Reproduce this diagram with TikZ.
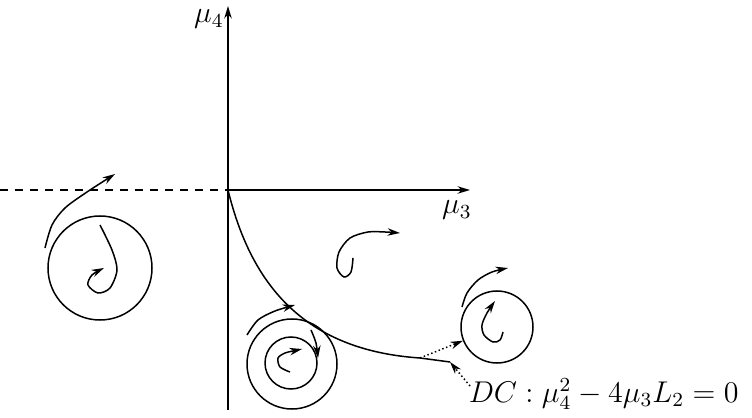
\documentclass[tikz,border=0pt]{standalone}
\usepackage{amsmath}
\usepackage{amssymb}
\usetikzlibrary{arrows.meta}
\begin{document}
\begin{tikzpicture}[x=0.4pt, y=-0.4pt, line width=0.6pt, >={Stealth[length=5pt,width=3pt]}, every node/.style={font=\large}]
        \useasboundingbox (0,0) rectangle (752,418);

        % Axes
        \coordinate (O) at (228,190);
        \coordinate (Xend) at (470,190);
        \coordinate (Xleft) at (0,190);
        \coordinate (Ytop) at (228,6);
        \coordinate (Ybot) at (228,410);
        \draw[->] (O) -- (Xend);
        \draw[->] (Ybot) -- (Ytop);
        \draw[dashed] (Xleft) -- (O);
        \node (mu4) at (209,19) {$\mu_4$};
        \node (mu3) at (457,210) {$\mu_3$};

        % Curve DC
        \coordinate (K1) at (420,358);
        \coordinate (K2) at (450,362);
        \draw (O) .. controls (250,280) and (300,350) .. (K1) -- (K2);
        \node[anchor=base west, inner sep=0pt] (DC) at (468,402) {$DC: \mu_4^2 - 4\mu_3 L_2 = 0$};
        \coordinate (DCtip) at (470,386);

        % Circles
        \node[draw, circle, minimum size=41.6pt, inner sep=0pt] (C1) at (100,268) {};
        \node[draw, circle, minimum size=36pt, inner sep=0pt] (C2) at (292,364) {};
        \node[draw, circle, minimum size=20.8pt, inner sep=0pt] (C2in) at (291,363) {};
        \node[draw, circle, minimum size=28.8pt, inner sep=0pt] (C3) at (497,327) {};

        % Trajectories
        \draw[->] plot[smooth] coordinates {(100,225) (112,250) (117,270) (110,288) (98,293) (88,285) (92,275) (104,268)};
        \draw[->] plot[smooth] coordinates {(45,248) (52,225) (65,208) (87,192) (115,174)};
        \draw[->] plot[smooth] coordinates {(353,258) (351,272) (344,277) (337,268) (339,252) (350,238) (368,232) (385,232) (400,233)};
        \draw[->] plot[smooth] coordinates {(290,372) (280,367) (278,358) (285,353) (293,351) (302,349)};
        \draw[->] plot[smooth] coordinates {(311,330) (316,343) (318,358)};
        \draw[->] plot[smooth] coordinates {(247,335) (258,320) (275,311) (295,305)};
        \draw[->] plot[smooth] coordinates {(503,332) (500,340) (493,342) (484,335) (482,325) (487,313) (495,301)};
        \draw[->] plot[smooth] coordinates {(462,307) (467,293) (478,280) (492,272) (508,268)};

        % Pointers
        \draw[->, densely dotted] (K1) -- (C3);
        \draw[->, densely dotted] (DCtip) -- (K2);
    \end{tikzpicture}
\end{document}
